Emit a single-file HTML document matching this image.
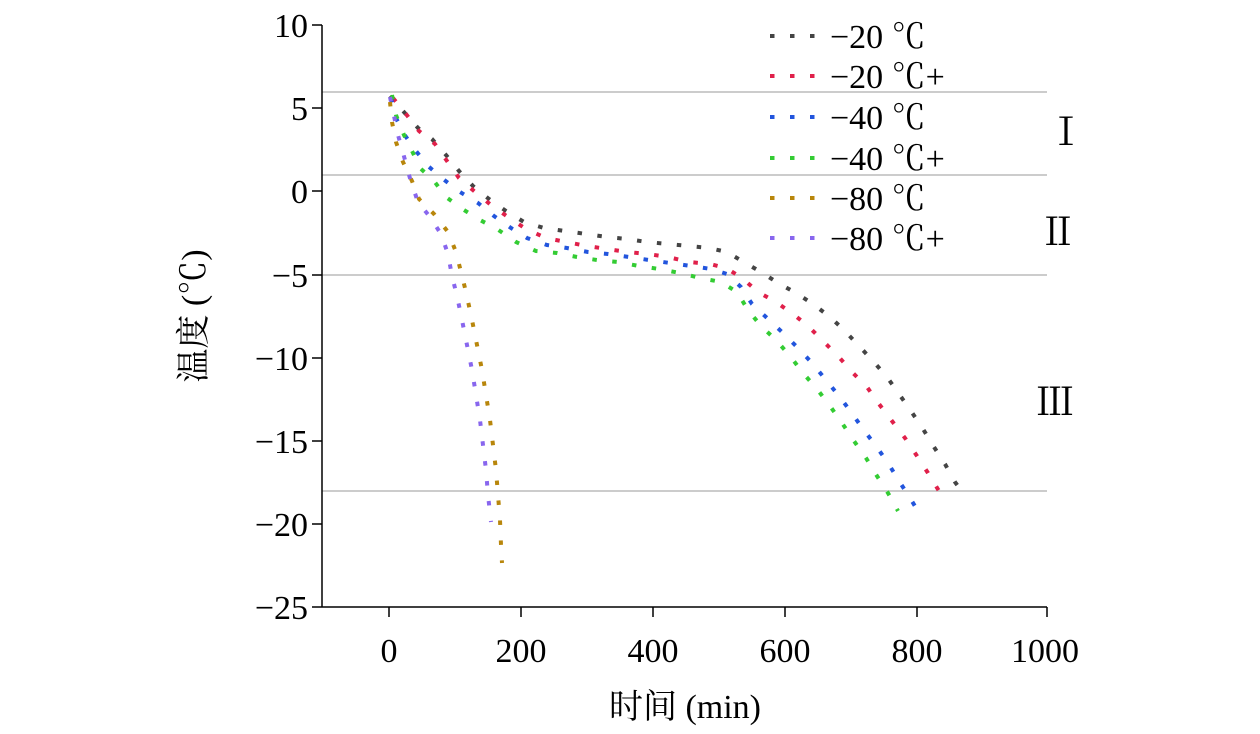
<!DOCTYPE html>
<html><head><meta charset="utf-8"><style>body{margin:0;background:#fff}</style></head><body>
<svg width="1260" height="729" xmlns="http://www.w3.org/2000/svg" font-family="'Liberation Serif', 'Noto Serif CJK SC', serif">
<g stroke="#bbb" stroke-width="1.5">
<line x1="322" y1="92" x2="1047" y2="92"/><line x1="322" y1="175" x2="1047" y2="175"/>
<line x1="322" y1="275" x2="1047" y2="275"/><line x1="322" y1="491" x2="1047" y2="491"/>
</g>
<g stroke="#000" stroke-width="1.5">
<line x1="322" y1="25" x2="322" y2="607"/><line x1="322" y1="607" x2="1047" y2="607"/>
<line x1="312" y1="25" x2="322" y2="25"/><line x1="312" y1="108" x2="322" y2="108"/><line x1="312" y1="191" x2="322" y2="191"/><line x1="312" y1="275" x2="322" y2="275"/><line x1="312" y1="358" x2="322" y2="358"/><line x1="312" y1="441" x2="322" y2="441"/><line x1="312" y1="524" x2="322" y2="524"/><line x1="312" y1="607" x2="322" y2="607"/>
<line x1="389" y1="607" x2="389" y2="617"/><line x1="521" y1="607" x2="521" y2="617"/><line x1="653" y1="607" x2="653" y2="617"/><line x1="785" y1="607" x2="785" y2="617"/><line x1="917" y1="607" x2="917" y2="617"/><line x1="1047" y1="607" x2="1047" y2="617"/>
</g>
<g font-size="34" text-anchor="end">
<text x="308" y="37">10</text><text x="308" y="120">5</text><text x="308" y="203">0</text><text x="308" y="287">−5</text><text x="308" y="370">−10</text><text x="308" y="453">−15</text><text x="308" y="536">−20</text><text x="308" y="619">−25</text>
</g>
<g font-size="34" text-anchor="middle">
<text x="389" y="662">0</text><text x="521" y="662">200</text><text x="653" y="662">400</text><text x="785" y="662">600</text><text x="917" y="662">800</text><text x="1045" y="662">1000</text>
<text x="685" y="718">时间 (min)</text>
<text transform="translate(205,316) rotate(-90)">温度 (℃)</text>
<text x="1066" y="145" font-size="38">Ⅰ</text><text x="1058" y="245" font-size="38">Ⅱ</text><text x="1055" y="415" font-size="38">Ⅲ</text>
</g>
<g fill="none" stroke-width="4" stroke-dasharray="4.5 15.5">
<polyline stroke="#444" points="390,96 403,111 418,128 432,139 446,155 459,171 473,186 489,199 506,211 524,222 544,228 565,231 586,234 607,237 627,239 647,242 668,244 689,246 709,248 727,252 742,261 761,272 778,283 796,293 813,304 830,317 844,330 859,346 873,361 887,377 899,394 911,411 923,429 934,447 945,464 955,482 966,497"/>
<polyline stroke="#e0204a" points="393,98 406,114 419,131 435,144 447,161 459,178 474,191 491,205 508,217 526,229 546,238 566,242 587,246 607,249 627,252 648,254 668,257 689,262 710,264 726,268 742,278 758,292 776,302 793,314 808,326 823,341 838,356 852,372 867,387 879,404 892,421 905,438 917,456 928,473 939,491"/>
<polyline stroke="#2255dd" points="391,98 395,116 404,134 416,151 428,166 443,179 460,192 478,203 494,216 511,228 527,238 547,245 567,248 588,252 608,254 629,257 649,260 670,263 691,266 711,269 727,274 741,287 752,304 767,318 783,333 798,348 812,363 826,380 839,396 851,412 863,429 876,446 888,463 899,481 910,498 921,516"/>
<polyline stroke="#33cc33" points="392,95 396,115 404,135 413,153 420,168 434,181 446,197 464,210 480,220 497,229 516,242 536,251 557,253 577,257 597,260 618,262 639,266 659,269 680,273 700,278 721,282 737,292 748,310 761,326 776,340 790,356 803,373 817,389 830,406 842,423 854,441 866,458 877,476 888,493 898,511"/>
<polyline stroke="#b8860b" points="390,102 392,122 396,142 403,162 412,181 419,199 434,214 448,232 456,252 461,272 466,292 472,320 477,345 482,370 486,395 490,420 493,445 496,470 498,495 500,520 501,545 502,563"/>
<polyline stroke="#8866ee" points="390,97 398,135 405,160 411,182 418,202 430,217 441,234 448,254 452,276 457,296 462,320 467,345 472,370 476,395 480,420 483,445 486,470 488,495 491,522"/>
<line stroke="#444" x1="770" y1="36" x2="822" y2="36"/>
<line stroke="#e0204a" x1="770" y1="76" x2="822" y2="76"/>
<line stroke="#2255dd" x1="770" y1="117" x2="822" y2="117"/>
<line stroke="#33cc33" x1="770" y1="158" x2="822" y2="158"/>
<line stroke="#b8860b" x1="770" y1="198" x2="822" y2="198"/>
<line stroke="#8866ee" x1="770" y1="238" x2="822" y2="238"/>
</g>
<g font-size="34">
<text x="830" y="48">−20 ℃</text><text x="830" y="88">−20 ℃+</text><text x="830" y="129">−40 ℃</text><text x="830" y="170">−40 ℃+</text><text x="830" y="210">−80 ℃</text><text x="830" y="250">−80 ℃+</text>
</g>
</svg>
</body></html>
